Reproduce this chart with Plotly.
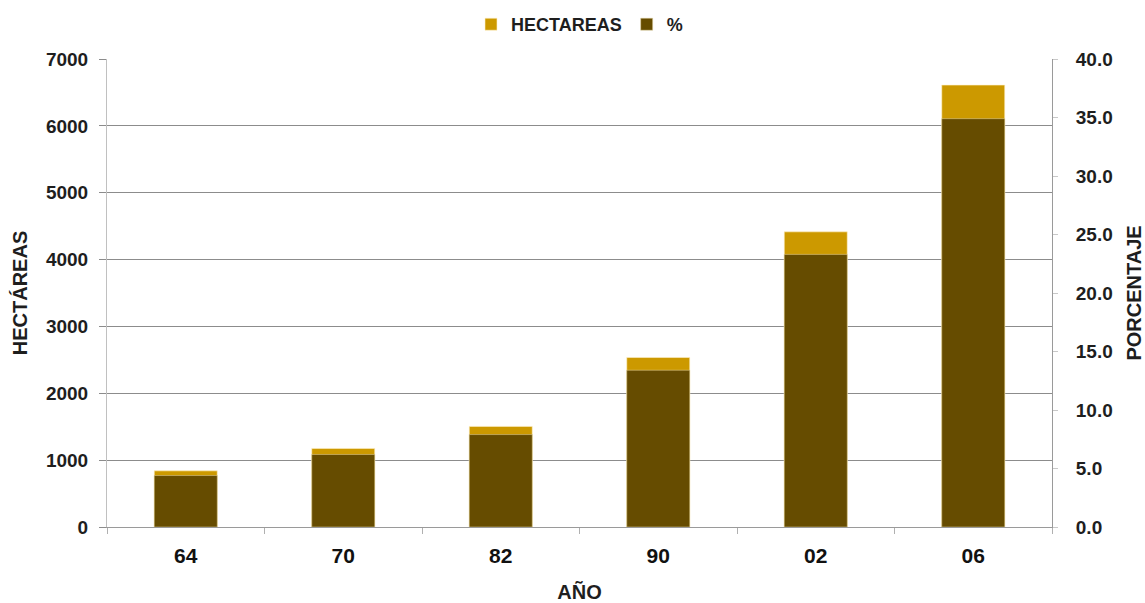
import plotly.graph_objects as go

# Años (dos últimas cifras) y valores de cada serie
anios = ["64", "70", "82", "90", "02", "06"]
hectareas = [840, 1175, 1505, 2535, 4415, 6610]
porcentaje = [4.4, 6.2, 7.9, 13.4, 23.3, 34.9]

FONT = "Liberation Sans, Arial, sans-serif"
TXT = "#1e1e1e"

fig = go.Figure()

fig.add_bar(
    x=anios, y=hectareas, name="HECTAREAS", yaxis="y",
    width=0.4, marker=dict(color="#CC9900", opacity=1,
                           line=dict(color="rgba(255,240,200,0.6)", width=1)),
)
fig.add_bar(
    x=anios, y=porcentaje, name="%", yaxis="y2",
    width=0.4, marker=dict(color="#664C00", opacity=1,
                           line=dict(color="rgba(230,215,170,0.5)", width=1)),
)

fig.update_layout(
    width=1145, height=603,
    margin=dict(l=107, r=93, t=59, b=76, autoexpand=False),
    paper_bgcolor="white", plot_bgcolor="white",
    barmode="overlay",
    font=dict(family=FONT, color=TXT),
    showlegend=True,
    legend=dict(
        orientation="h", x=0.5, xanchor="center", y=0.99, yanchor="top",
        yref="container", font=dict(family=FONT, size=18, color=TXT, weight="bold"),
        itemwidth=30, traceorder="normal",
    ),
    xaxis=dict(
        type="category", categoryorder="array", categoryarray=anios,
        automargin=False,
        showline=True, linecolor="#9a9a9a", linewidth=1,
        ticks="outside", tickson="boundaries", ticklen=6, tickcolor="#b0b0b0",
        tickfont=dict(family=FONT, size=21, color="#111", weight="bold"),
        ticklabelstandoff=10,
        title=dict(text="AÑO", standoff=44,
                   font=dict(family=FONT, size=20, color=TXT, weight="bold")),
        showgrid=False, zeroline=False,
    ),
    yaxis=dict(
        range=[0, 7000], dtick=1000, tick0=0, automargin=False,
        showline=True, linecolor="#c0c0c0", linewidth=1,
        ticks="outside", ticklen=7, tickcolor="#8c8c8c",
        showgrid=True, gridcolor="#8c8c8c", gridwidth=1, zeroline=False,
        tickfont=dict(family=FONT, size=19, color=TXT, weight="bold"),
        ticklabelstandoff=7,
        title=dict(text="HECTÁREAS", standoff=12,
                   font=dict(family=FONT, size=20, color=TXT, weight="bold")),
    ),
    yaxis2=dict(
        overlaying="y", side="right", anchor="x", automargin=False,
        range=[0, 40], dtick=5, tick0=0, tickformat=".1f",
        showline=True, linecolor="#9a9a9a", linewidth=1,
        ticks="outside", ticklen=5, tickcolor="#c8c8c8",
        showgrid=False, zeroline=False,
        tickfont=dict(family=FONT, size=19, color=TXT, weight="bold"),
        ticklabelstandoff=14,
        title=dict(text="PORCENTAJE", standoff=16,
                   font=dict(family=FONT, size=20, color=TXT, weight="bold")),
    ),
)

fig.write_html("out.html")
